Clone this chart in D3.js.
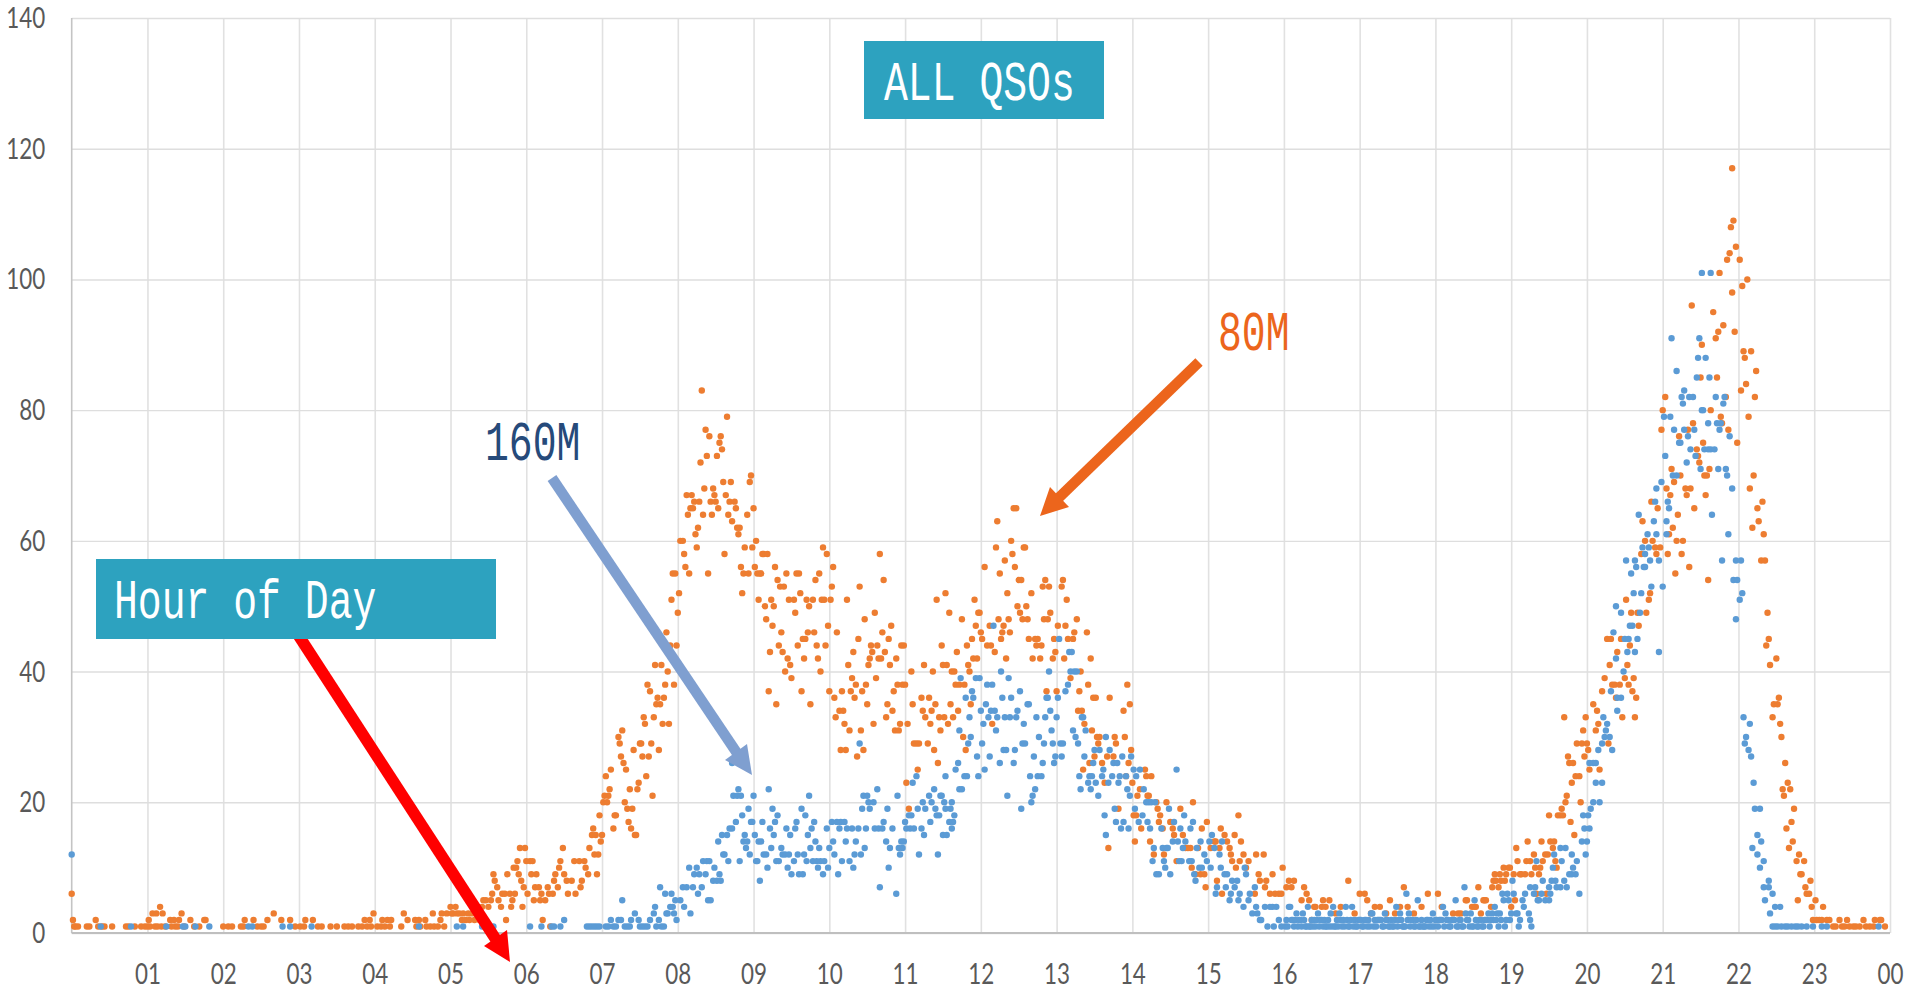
<!DOCTYPE html>
<html>
<head>
<meta charset="utf-8">
<title>ALL QSOs</title>
<script src="https://cdn.jsdelivr.net/npm/d3@7"></script>
<style>
  html, body { margin: 0; padding: 0; background: #fff; overflow: hidden; }
  svg { display: block; }
  .tick text { font-family: Lato, sans-serif; font-size: 28px; fill: #595959; }
  .note { font-family: "Liberation Mono", monospace; font-size: 56px; }
</style>
</head>
<body>
<svg id="plot" width="1909" height="991"></svg>
<script>
"use strict";

// QSOs per minute, one row per hour: [minute, count]
const orangeByHour = [
  [[0,6],[1,2],[2,1],[3,1],[5,1],[12,1],[14,1],[19,2],[21,1],[24,1],[26,1],[32,1],[43,1],[45,1],[50,1],[55,1],[58,1]],
  [[0,1],[1,2],[2,1],[4,3],[6,1],[7,3],[8,1],[10,4],[11,1],[12,3],[14,1],[18,2],[19,1],[21,2],[22,1],[24,1],[25,2],[27,3],[29,1],[34,2],[37,1],[41,1],[45,2],[46,2]],
  [[0,1],[4,1],[7,1],[14,1],[16,1],[17,2],[24,2],[27,1],[30,1],[32,1],[35,2],[40,3],[46,2],[53,2],[57,1]],
  [[1,1],[4,1],[5,2],[11,2],[15,1],[18,1],[25,1],[30,1],[36,1],[39,1],[42,1],[47,1],[50,1],[52,2],[54,1],[56,2],[57,1],[59,3]],
  [[2,1],[5,1],[6,2],[8,1],[10,2],[12,1],[13,2],[21,1],[23,3],[26,2],[32,2],[33,1],[35,2],[36,1],[40,2],[41,1],[44,1],[46,3],[47,1],[50,1],[52,2],[53,3],[55,1],[57,3]],
  [[0,4],[1,3],[2,3],[4,4],[5,3],[7,3],[9,2],[10,3],[12,2],[14,3],[15,2],[17,3],[19,2],[21,3],[23,2],[25,4],[26,5],[28,5],[30,4],[32,5],[33,6],[34,9],[35,8],[37,7],[38,5],[40,4],[41,6],[43,6],[44,2],[45,9],[47,6],[48,4],[49,5],[50,10],[51,6],[52,10],[53,11],[54,9],[55,13],[56,8],[57,4],[58,7],[59,13]],
  [[0,11],[1,6],[3,11],[4,9],[5,11],[6,5],[7,7],[8,9],[10,7],[11,5],[12,6],[13,2],[15,5],[17,7],[18,6],[19,1],[21,6],[22,8],[23,9],[25,7],[26,10],[27,11],[29,13],[30,9],[32,8],[33,6],[36,8],[38,11],[39,6],[42,11],[43,7],[44,8],[46,11],[47,10],[49,9],[50,13],[52,15],[53,16],[54,12],[55,15],[56,9],[57,12],[58,18],[59,14]],
  [[0,15],[1,20],[2,21],[3,24],[4,20],[5,21],[6,22],[7,25],[9,16],[10,18],[11,18],[13,30],[14,29],[15,27],[16,31],[17,26],[18,20],[19,25],[20,19],[21,17],[22,22],[23,16],[24,19],[25,28],[26,15],[27,15],[28,22],[29,23],[30,29],[31,29],[32,27],[33,33],[34,32],[35,24],[36,38],[37,27],[38,37],[39,29],[40,21],[41,33],[42,41],[43,35],[44,36],[45,28],[46,35],[47,41],[48,32],[49,36],[50,38],[51,46],[52,40],[53,32],[54,44],[55,51],[56,55],[57,38],[58,55],[59,44]],
  [[0,49],[1,52],[2,60],[4,60],[5,58],[6,56],[7,67],[8,64],[9,55],[10,65],[11,67],[12,65],[13,66],[14,61],[15,59],[16,62],[17,66],[18,72],[19,83],[20,64],[21,68],[22,77],[23,73],[24,55],[25,76],[26,66],[27,64],[28,68],[29,67],[30,66],[31,73],[32,65],[33,75],[34,76],[35,74],[36,69],[37,58],[38,67],[39,79],[40,64],[41,66],[42,69],[43,63],[45,66],[46,65],[47,62],[48,61],[49,62],[50,56],[51,52],[52,55],[53,59],[55,64],[56,55],[57,69],[58,70],[59,59]],
  [[0,65],[1,56],[2,60],[3,55],[5,55],[6,55],[4,51],[7,58],[8,58],[11,58],[9,50],[10,48],[12,37],[13,43],[14,51],[15,47],[16,50],[17,56],[18,35],[19,54],[20,44],[21,53],[22,46],[23,43],[24,53],[25,40],[26,55],[27,42],[28,51],[29,41],[30,39],[32,51],[33,49],[34,55],[35,44],[36,55],[37,52],[38,37],[39,45],[40,42],[41,45],[42,51],[43,46],[44,50],[45,35],[47,51],[48,46],[49,54],[50,44],[51,42],[52,55],[53,40],[54,51],[55,59],[56,51],[57,44],[58,58],[59,47]],
  [[0,37],[1,51],[2,53],[3,56],[4,36],[5,33],[6,46],[8,34],[9,28],[10,37],[11,34],[12,32],[13,28],[14,51],[15,41],[16,31],[17,37],[18,39],[19,43],[20,36],[21,38],[22,27],[23,45],[24,53],[25,31],[26,37],[27,28],[28,48],[29,38],[30,35],[31,41],[32,42],[33,44],[34,43],[35,32],[36,49],[37,39],[38,44],[39,42],[40,58],[41,42],[42,46],[43,54],[44,43],[45,33],[46,35],[47,45],[48,41],[49,47],[50,34],[51,37],[52,31],[53,42],[54,38],[55,31],[56,32],[57,44],[58,38],[59,44]],
  [[0,38],[1,23],[2,32],[3,19],[5,40],[6,35],[7,29],[9,29],[10,25],[11,29],[13,36],[14,34],[15,41],[16,33],[18,29],[19,36],[20,32],[21,34],[22,40],[23,28],[24,35],[25,51],[26,26],[27,33],[28,31],[29,44],[30,41],[31,33],[32,52],[33,41],[34,32],[35,49],[36,35],[37,40],[38,33],[39,40],[40,38],[41,43],[42,34],[43,38],[45,48],[46,30],[47,38],[48,28],[49,44],[50,41],[51,40],[52,35],[53,45],[54,42],[55,51],[56,47],[57,42],[58,49],[59,49]],
  [[0,46],[1,45],[3,56],[5,44],[7,47],[8,44],[9,32],[11,43],[12,59],[13,63],[14,48],[15,55],[16,45],[17,46],[18,47],[19,57],[20,42],[21,52],[22,48],[23,46],[24,60],[25,58],[26,65],[27,56],[28,65],[29,50],[30,54],[31,49],[32,54],[33,48],[34,59],[35,59],[36,50],[37,48],[38,45],[40,52],[41,42],[43,45],[44,44],[45,45],[47,42],[48,44],[49,53],[50,48],[51,54],[52,37],[53,48],[54,53],[55,49],[57,42],[58,45],[59,43]],
  [[0,37],[1,47],[4,53],[5,54],[6,42],[7,47],[8,51],[9,45],[11,39],[13,45],[14,46],[16,48],[17,34],[18,37],[19,40],[20,34],[21,25],[22,32],[24,46],[25,38],[26,26],[27,42],[28,31],[29,36],[30,27],[31,36],[32,30],[33,29],[34,30],[36,26],[38,23],[40,27],[41,13],[42,36],[45,27],[46,30],[47,29],[49,19],[53,34],[54,30],[55,24],[56,38],[57,26],[58,35],[59,28]],
  [[0,23],[1,18],[2,14],[3,18],[4,21],[6,22],[7,16],[10,25],[11,24],[12,21],[13,21],[14,14],[15,24],[17,12],[19,20],[20,19],[21,17],[22,18],[24,16],[25,12],[27,20],[30,17],[32,16],[33,15],[35,11],[38,19],[40,15],[42,13],[44,13],[46,13],[47,10],[48,20],[50,9],[52,13],[54,9],[55,16],[57,9],[58,7],[59,17]],
  [[2,13],[5,14],[6,14],[7,8],[9,13],[10,16],[11,6],[13,15],[15,14],[17,13],[18,12],[19,11],[21,15],[22,10],[24,18],[25,11],[26,14],[28,12],[30,10],[32,11],[37,6],[38,12],[40,9],[41,8],[44,12],[45,7],[46,8],[49,6],[51,9],[53,6],[56,6],[58,6],[59,10]],
  [[2,7],[4,8],[6,7],[8,8],[14,5],[16,7],[18,6],[20,5],[24,4],[22,2],[25,4],[30,4],[31,5],[33,4],[36,5],[41,3],[45,4],[51,8],[56,3]],
  [[0,6],[4,6],[6,5],[9,3],[12,4],[16,4],[21,3],[24,5],[28,3],[32,4],[35,7],[38,4],[43,3],[49,4],[54,6]],
  [[2,6],[5,4],[14,3],[18,3],[20,3],[24,5],[25,5],[29,4],[31,4],[32,4],[34,7],[36,3],[38,5],[39,5],[40,5],[44,4],[45,7],[46,8],[47,9],[48,8],[50,7],[51,9],[52,8],[54,10],[55,8],[56,9],[58,10],[59,10]],
  [[0,4],[2,9],[3,5],[4,13],[5,11],[7,9],[8,9],[11,9],[12,11],[13,14],[15,11],[16,9],[18,12],[19,10],[20,6],[22,9],[23,10],[24,14],[25,11],[27,12],[28,6],[29,12],[30,18],[31,14],[33,13],[34,14],[35,11],[36,10],[37,18],[39,18],[40,19],[41,18],[42,33],[43,20],[44,21],[45,27],[46,26],[47,17],[48,23],[49,26],[50,15],[51,24],[52,29],[54,24],[55,20],[56,29],[57,31],[58,27],[59,33]],
  [[0,29],[1,28],[2,25],[5,35],[7,31],[8,34],[9,32],[10,25],[12,37],[14,39],[16,45],[17,29],[18,41],[19,45],[20,38],[22,38],[23,36],[24,43],[26,38],[27,45],[28,33],[30,39],[31,51],[32,41],[33,38],[34,44],[35,49],[36,37],[37,39],[38,33],[39,36],[40,49],[41,47],[43,58],[44,63],[46,60],[47,49],[49,51],[50,52],[51,66],[52,60],[54,59],[55,58],[56,65],[58,59],[59,77]],
  [[0,80],[2,82],[3,68],[4,58],[5,61],[6,67],[7,71],[8,62],[9,69],[10,55],[11,60],[12,64],[13,76],[14,70],[15,58],[16,60],[18,68],[19,67],[20,77],[21,56],[22,68],[23,96],[24,78],[25,65],[27,74],[28,73],[29,72],[30,85],[31,90],[32,75],[33,70],[34,67],[35,70],[36,54],[37,71],[38,80],[40,95],[42,91],[43,85],[44,92],[45,101],[46,79],[47,78],[48,93],[50,82],[51,103],[52,77],[53,104],[54,108],[55,98],[55,117],[56,109],[57,92],[58,105],[59,75]],
  [[1,103],[2,83],[3,99],[4,89],[5,88],[6,84],[7,100],[8,79],[9,68],[10,89],[11,62],[12,70],[13,82],[14,86],[15,65],[16,63],[18,57],[19,66],[20,61],[21,57],[22,44],[23,49],[24,45],[25,41],[27,33],[28,35],[30,42],[31,35],[32,36],[33,32],[34,30],[35,22],[36,21],[37,26],[38,16],[39,23],[40,13],[41,22],[42,17],[43,14],[44,19],[46,11],[47,5],[48,12],[49,9],[50,9],[52,11],[53,7],[54,6],[56,6],[57,8],[58,4],[59,2]],
  [[1,5],[2,2],[4,2],[6,2],[7,4],[10,2],[12,2],[15,1],[17,1],[20,2],[22,1],[24,1],[26,2],[28,1],[31,1],[33,1],[36,1],[39,2],[41,1],[44,1],[47,1],[48,2],[52,2],[53,2],[56,1]]
];

const blueByHour = [
  [[0,12],[23,1],[47,1]],
  [[15,1],[28,1],[30,1],[38,1],[49,1]],
  [[20,1],[23,1],[47,1],[53,1]],
  [[10,1]],
  [[35,1]],
  [[5,1],[10,1],[25,1],[34,1]],
  [[3,1],[12,1],[20,1],[22,1],[27,1],[30,2],[48,1],[50,1],[52,1],[54,1],[56,1],[58,1]],
  [[3,1],[5,1],[7,2],[9,1],[11,1],[13,2],[15,2],[16,5],[18,1],[20,1],[22,1],[23,2],[26,3],[29,2],[30,1],[32,1],[34,1],[36,1],[38,2],[41,3],[42,4],[43,1],[45,2],[46,7],[47,1],[49,1],[50,6],[51,3],[52,3],[54,4],[55,6],[56,4],[57,3],[58,5],[59,2]],
  [[2,5],[4,7],[5,4],[7,7],[9,10],[10,3],[12,7],[13,9],[15,10],[16,6],[17,9],[19,7],[20,11],[22,9],[23,11],[24,5],[25,11],[26,5],[28,8],[29,10],[31,8],[32,14],[33,9],[34,8],[35,15],[36,12],[37,12],[39,15],[40,11],[41,16],[43,16],[43,26],[44,21],[46,17],[47,21],[48,22],[49,11],[50,21],[51,18],[52,14],[53,15],[54,13],[55,14],[56,19],[57,12],[58,17],[59,17]],
  [[0,21],[1,15],[2,11],[3,11],[4,14],[5,8],[6,14],[7,17],[8,12],[10,12],[11,10],[12,22],[13,16],[14,13],[15,19],[16,15],[17,17],[18,11],[19,18],[20,11],[22,13],[23,12],[25,12],[26,16],[27,10],[28,12],[29,15],[30,9],[32,11],[33,16],[34,17],[35,12],[36,9],[38,19],[39,9],[40,12],[41,18],[42,11],[43,15],[44,21],[45,13],[46,16],[47,11],[48,17],[49,14],[50,11],[51,10],[52,13],[53,11],[55,9],[56,11],[58,16],[59,10]],
  [[0,13],[2,17],[3,14],[4,12],[6,17],[7,9],[8,16],[9,17],[10,11],[12,17],[13,14],[14,16],[16,11],[18,16],[19,10],[20,12],[21,14],[23,16],[24,29],[25,12],[26,19],[27,21],[28,13],[29,16],[30,21],[31,20],[32,19],[35,20],[36,16],[38,22],[39,16],[40,7],[42,16],[43,17],[45,14],[46,19],[47,10],[48,13],[50,16],[53,6],[54,21],[55,13],[56,12],[57,14],[58,13],[59,14]],
  [[0,17],[1,16],[3,18],[4,16],[5,18],[6,23],[7,16],[9,24],[10,19],[11,12],[13,16],[14,20],[15,15],[16,19],[19,21],[20,17],[21,20],[23,22],[24,19],[25,18],[26,12],[27,18],[28,21],[29,21],[30,15],[31,20],[32,19],[32,24],[33,15],[35,17],[36,19],[37,20],[37,16],[38,17],[39,18],[40,25],[42,26],[43,22],[43,31],[44,39],[45,22],[47,24],[48,36],[49,24],[50,29],[51,33],[52,30],[53,37],[54,36],[56,39],[57,27],[58,24],[59,39]],
  [[0,34],[1,29],[2,32],[3,25],[4,35],[5,38],[6,33],[7,27],[8,34],[9,38],[10,47],[11,34],[12,31],[13,33],[15,26],[16,40],[17,36],[18,28],[19,33],[20,28],[21,21],[22,39],[23,33],[24,36],[26,26],[27,28],[28,33],[29,34],[31,37],[32,19],[33,29],[34,32],[35,29],[37,35],[38,35],[39,24],[40,20],[41,21],[42,27],[43,22],[44,33],[45,24],[46,30],[48,24],[49,26],[50,29],[51,33],[52,36],[53,36],[54,40],[55,34],[56,31],[57,29],[58,26],[59,27]],
  [[0,33],[1,36],[2,45],[3,29],[4,27],[5,29],[7,37],[9,38],[10,43],[11,40],[12,43],[13,31],[14,40],[15,30],[16,40],[17,29],[18,24],[19,22],[20,33],[21,33],[22,27],[23,31],[25,23],[26,24],[27,22],[28,24],[29,26],[30,28],[31,23],[33,21],[34,28],[36,24],[37,25],[38,18],[39,15],[39,30],[41,23],[42,28],[44,24],[45,26],[46,19],[47,17],[48,26],[49,23],[50,24],[51,16],[52,27],[53,17],[55,24],[56,22],[57,16],[58,21],[59,27]],
  [[1,25],[2,19],[3,24],[5,17],[6,25],[8,18],[9,22],[11,20],[12,17],[13,20],[14,16],[15,20],[16,11],[17,13],[18,20],[19,9],[21,9],[23,16],[24,13],[25,11],[26,10],[27,13],[28,13],[29,19],[30,9],[32,14],[33,17],[35,25],[36,14],[37,11],[38,16],[39,11],[40,13],[41,18],[42,14],[45,11],[46,16],[47,11],[48,17],[49,9],[50,8],[51,13],[53,10],[54,14],[55,10],[57,12],[59,11]],
  [[1,14],[2,10],[3,15],[5,13],[6,6],[7,7],[9,12],[10,10],[11,14],[13,9],[14,7],[15,9],[17,5],[18,6],[19,8],[21,7],[23,8],[24,5],[25,6],[28,4],[29,10],[30,9],[32,5],[33,6],[35,3],[37,7],[38,4],[39,3],[41,2],[42,2],[45,4],[47,1],[49,4],[51,4],[52,1],[54,4],[56,2],[58,1]],
  [[1,1],[2,2],[3,1],[4,4],[5,4],[6,2],[7,2],[8,1],[9,2],[10,3],[11,1],[12,2],[13,2],[14,1],[15,3],[16,2],[17,1],[18,1],[19,4],[20,1],[21,1],[22,2],[23,1],[24,2],[25,1],[26,2],[27,3],[28,1],[29,2],[30,2],[31,1],[32,2],[33,1],[34,1],[35,2],[36,1],[37,3],[38,1],[39,4],[40,1],[41,1],[42,2],[43,1],[44,3],[45,2],[46,1],[47,2],[48,1],[49,4],[50,2],[51,1],[52,1],[53,2],[54,4],[55,1],[56,2],[57,1],[58,1],[59,2]],
  [[0,2],[1,2],[2,1],[3,1],[4,2],[5,2],[6,1],[7,2],[8,1],[9,3],[10,3],[11,1],[12,2],[13,1],[14,2],[15,2],[16,2],[17,2],[18,1],[19,1],[20,3],[21,2],[22,2],[23,1],[24,1],[25,2],[26,1],[27,1],[28,2],[29,4],[30,1],[31,2],[32,3],[33,2],[34,1],[35,1],[36,1],[37,6],[38,2],[39,3],[40,1],[41,2],[42,2],[43,1],[44,1],[45,2],[46,5],[47,1],[48,1],[49,2],[50,1],[51,1],[52,1],[53,2],[54,2],[55,1],[56,2],[57,1],[58,3],[59,1]],
  [[0,2],[1,2],[2,1],[3,2],[4,2],[5,2],[6,4],[7,1],[8,3],[9,2],[10,2],[11,1],[12,1],[13,2],[14,2],[15,2],[16,5],[17,1],[18,1],[19,2],[20,2],[21,1],[22,1],[23,7],[24,3],[25,2],[26,2],[27,1],[28,3],[29,1],[30,1],[31,5],[32,2],[33,1],[34,1],[35,2],[36,2],[37,1],[38,1],[39,2],[40,2],[41,2],[42,3],[43,1],[44,2],[45,3],[46,2],[47,4],[48,2],[49,3],[50,1],[51,3],[52,2],[53,6],[54,5],[55,1],[56,2],[57,6],[58,5],[59,2]],
  [[0,3],[1,8],[2,6],[4,3],[5,3],[6,1],[7,2],[9,5],[10,4],[11,6],[14,3],[15,2],[15,7],[16,1],[18,6],[19,7],[20,11],[21,5],[22,5],[24,6],[25,8],[27,5],[30,5],[31,6],[30,7],[32,8],[33,10],[34,12],[35,8],[36,7],[39,7],[39,13],[40,11],[42,8],[43,13],[44,7],[46,9],[48,12],[48,9],[49,10],[51,9],[52,11],[54,6],[56,14],[57,18],[58,16],[59,12]],
  [[0,14],[1,18],[2,16],[2,26],[3,19],[5,20],[5,26],[7,23],[7,26],[9,28],[10,20],[12,23],[12,29],[13,33],[14,30],[15,31],[16,32],[18,30],[19,37],[20,28],[21,46],[23,50],[23,42],[24,34],[24,36],[27,36],[27,49],[29,40],[30,45],[31,57],[32,43],[33,45],[34,47],[35,55],[36,47],[37,52],[38,43],[38,57],[39,56],[40,45],[41,64],[42,49],[43,52],[44,59],[45,56],[46,58],[46,56],[48,61],[49,59],[50,57],[51,53],[53,63],[54,66],[55,61],[55,68],[57,43],[57,57],[59,69]],
  [[0,53],[1,79],[2,73],[3,61],[3,63],[4,66],[5,65],[6,79],[7,91],[8,70],[9,77],[11,70],[11,86],[13,75],[14,75],[15,82],[16,81],[17,77],[17,83],[19,72],[20,76],[21,82],[22,74],[24,82],[25,77],[26,73],[27,85],[28,88],[29,91],[30,71],[31,101],[31,80],[32,80],[33,74],[34,88],[36,78],[36,74],[37,85],[38,74],[38,101],[39,64],[41,74],[42,82],[43,78],[44,71],[45,77],[46,78],[47,57],[48,81],[49,82],[50,71],[51,70],[52,61],[53,76],[55,68],[56,54],[58,57],[58,48],[59,54]],
  [[1,51],[2,57],[3,52],[4,33],[5,29],[6,30],[8,28],[9,32],[10,27],[11,13],[12,23],[13,19],[15,15],[15,12],[17,19],[17,10],[18,14],[20,11],[20,7],[21,5],[24,8],[24,7],[25,3],[27,6],[27,1],[29,1],[29,4],[31,1],[33,4],[34,1],[37,1],[39,1],[42,1],[45,1],[47,1],[50,1],[54,1],[59,1]],
  [[6,1],[10,1],[51,1]]
];

const yTickValues = [0, 20, 40, 60, 80, 100, 120, 140];
const hourTicks = d3.range(1, 25);

const plotLeft = 71.7, plotRight = 1890, plotTop = 18, plotBottom = 933;
const dotRadius = 3.2;

const svg = d3.select("svg#plot");

const x = d3.scaleLinear().domain([0, 1440]).range([plotLeft, plotRight]);
const y = d3.scaleLinear().domain([0, 140]).range([plotBottom, plotTop]);

// Gridlines are just the axis ticks pulled across the plot
const xAxis = svg
  .append("g")
  .attr("transform", `translate(0, ${plotBottom})`)
  .call(
    d3
      .axisBottom(x)
      .tickValues(hourTicks.map((h) => h * 60))
      .tickSize(-(plotBottom - plotTop))
      .tickPadding(0)
      .tickFormat((m) => d3.format("02d")((m / 60) % 24))
  );

const yAxis = svg
  .append("g")
  .attr("transform", `translate(${plotLeft}, 0)`)
  .call(
    d3
      .axisLeft(y)
      .tickValues(yTickValues)
      .tickSize(-(plotRight - plotLeft))
      .tickFormat(d3.format("d"))
  );

xAxis.select(".domain").remove();
yAxis.select(".domain").remove();
xAxis.selectAll(".tick line").attr("stroke", "#E1E1E1").attr("stroke-width", 1.6);
yAxis.selectAll(".tick line").attr("stroke", "#DEDEDE").attr("stroke-width", 1.4);

// Calibri-like digits: narrow and tall
xAxis
  .selectAll(".tick text")
  .attr("y", 0)
  .attr("dy", 51)
  .attr("transform", "scale(0.8, 1)");
yAxis
  .selectAll(".tick text")
  .attr("x", -33)
  .attr("dy", "0.34em")
  .attr("transform", "scale(0.8, 1)");

svg
  .append("line")
  .attr("x1", plotLeft)
  .attr("x2", plotLeft)
  .attr("y1", plotTop)
  .attr("y2", plotBottom)
  .attr("stroke", "#C4C4C4")
  .attr("stroke-width", 1.6);
svg
  .append("line")
  .attr("x1", plotLeft)
  .attr("x2", plotRight)
  .attr("y1", plotBottom)
  .attr("y2", plotBottom)
  .attr("stroke", "#BFBFBF")
  .attr("stroke-width", 2);

function drawSeries(byHour, color) {
  const points = byHour.flatMap((row, hour) =>
    row.map(([minute, count]) => ({ t: hour * 60 + minute, count }))
  );
  svg
    .append("g")
    .selectAll("circle")
    .data(points)
    .enter()
    .append("circle")
    .attr("cx", (d) => x(d.t))
    .attr("cy", (d) => y(d.count))
    .attr("r", dotRadius)
    .attr("fill", color);
}

drawSeries(orangeByHour, "#ED7D31");
drawSeries(blueByHour, "#5B9BD5");

function drawArrow(from, to, wingA, wingB, width, color) {
  svg
    .append("line")
    .attr("x1", from[0])
    .attr("y1", from[1])
    .attr("x2", (to[0] + (wingA[0] + wingB[0]) / 2) / 2)
    .attr("y2", (to[1] + (wingA[1] + wingB[1]) / 2) / 2)
    .attr("stroke", color)
    .attr("stroke-width", width);
  svg
    .append("polygon")
    .attr("points", [to, wingA, wingB].map((p) => p.join(",")).join(" "))
    .attr("fill", color);
}

function drawNote(text, left, baseline, color) {
  svg
    .append("text")
    .attr("class", "note")
    .attr("transform", `translate(${left}, ${baseline}) scale(0.71, 1)`)
    .attr("fill", color)
    .text(text);
}

// Annotations
drawArrow([295, 630], [510, 962], [484, 946], [507, 930], 11.5, "#FF0000");
drawArrow([552, 478], [752, 775], [725, 760], [747, 744], 10.5, "#7F9FD0");
drawArrow([1199, 362], [1040, 516], [1050, 487], [1069, 507], 10.5, "#EC651C");

svg.append("rect").attr("x", 864).attr("y", 41).attr("width", 240).attr("height", 78).attr("fill", "#2DA2BF");
svg.append("rect").attr("x", 96).attr("y", 559).attr("width", 400).attr("height", 80).attr("fill", "#2DA2BF");

drawNote("ALL QSOs", 884, 100, "#FFFFFF");
drawNote("Hour of Day", 114, 618, "#FFFFFF");
drawNote("160M", 485, 460, "#264A7A");
drawNote("80M", 1218, 350, "#EC651C");
</script>
</body>
</html>
